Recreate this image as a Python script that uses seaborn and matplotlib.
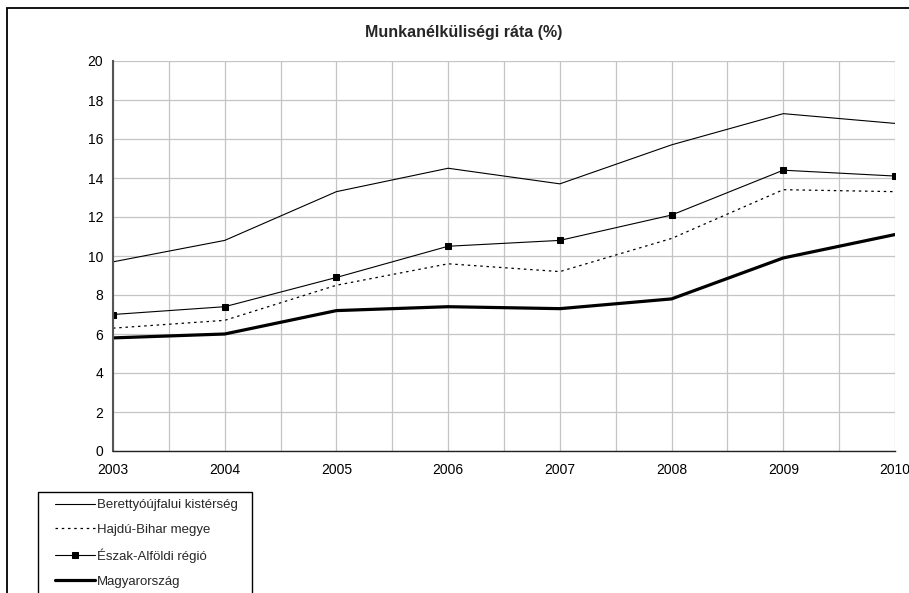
import numpy as np
import pandas as pd
import matplotlib
matplotlib.use("Agg")
import matplotlib.pyplot as plt
from matplotlib.patches import Rectangle
import seaborn as sns

years = [2003, 2004, 2005, 2006, 2007, 2008, 2009, 2010]
berettyo = [9.7, 10.8, 13.3, 14.5, 13.7, 15.7, 17.3, 16.8]
hajdu_bihar = [6.3, 6.7, 8.5, 9.6, 9.2, 10.9, 13.4, 13.3]
eszak_alfold = [7.0, 7.4, 8.9, 10.5, 10.8, 12.1, 14.4, 14.1]
magyarorszag = [5.8, 6.0, 7.2, 7.4, 7.3, 7.8, 9.9, 11.1]
series_names = ["Berettyóújfalui kistérség", "Hajdú-Bihar megye",
                "Észak-Alföldi régió", "Magyarország"]
title = "Munkanélküliségi ráta (%)"

df = pd.DataFrame({
    "Év": years * 4,
    "Ráta": berettyo + hajdu_bihar + eszak_alfold + magyarorszag,
    "Terület": [n for n in series_names for _ in years],
})

sns.set_style("white")
plt.rcParams['font.family'] = ['Liberation Sans', 'DejaVu Sans']

fig = plt.figure(figsize=(9.09, 5.93), dpi=100)
ax = fig.add_axes([113 / 909, 1 - 451 / 593, (895 - 113) / 909, (451 - 61) / 593])

styles = {
    "Berettyóújfalui kistérség": dict(lw=0.8, ls="-", marker=None),
    "Hajdú-Bihar megye": dict(lw=0.9, ls=(0, (2, 3)), marker=None),
    "Észak-Alföldi régió": dict(lw=0.8, ls="-", marker="s"),
    "Magyarország": dict(lw=2.3, ls="-", marker=None),
}
for name in series_names:
    st = styles[name]
    sns.lineplot(data=df[df["Terület"] == name], x="Év", y="Ráta", ax=ax,
                 color="black", linewidth=st["lw"], linestyle=st["ls"],
                 marker=st["marker"], markersize=5, markeredgecolor="black",
                 label=name, legend=False)

ax.set_xlim(2003, 2010)
ax.set_ylim(0, 20)
ax.set_xticks(years)
ax.set_xticks(np.arange(2003.5, 2010, 1.0), minor=True)
ax.set_yticks(range(0, 21, 2))
ax.grid(True, which="both", color="#c4c4c4", linewidth=0.9)
ax.set_axisbelow(True)
ax.set_xlabel("")
ax.set_ylabel("")
ax.tick_params(axis="both", which="major", labelsize=10, direction="out",
               length=4, width=0.8, color="#333333", pad=5, labelcolor="black")
ax.tick_params(axis="x", which="minor", length=0)
ax.tick_params(axis="y", pad=3)
for side in ["top", "right"]:
    ax.spines[side].set_visible(False)
ax.spines["left"].set_color("#555555")
ax.spines["left"].set_linewidth(1.5)
ax.spines["bottom"].set_color("#222222")
ax.spines["bottom"].set_linewidth(1.0)

fig.text(464 / 909, 1 - 33 / 593, title, ha="center", va="center",
         fontsize=11.5, fontweight="bold")

# legend without its own frame, box drawn separately (it runs off the bottom)
handles, labels = ax.get_legend_handles_labels()
fig.legend(handles, labels, loc="upper left",
           bbox_to_anchor=(55 / 909, 1 - 499 / 593), borderaxespad=0,
           frameon=False, fontsize=9.5, handlelength=3.0, handletextpad=0.2,
           labelspacing=0.95, borderpad=0)
fig.patches.append(Rectangle((38 / 909, -0.05), (252 - 38) / 909,
                             1.05 - 492 / 593, transform=fig.transFigure,
                             fill=False, edgecolor="black", linewidth=1.0))

# outer frame of the scanned page
fig.patches.append(Rectangle((7 / 909, -0.1), 1.2, 1.1 - 8 / 593,
                             transform=fig.transFigure, fill=False,
                             edgecolor="black", linewidth=1.3))

fig.savefig("out.png", dpi=100)
